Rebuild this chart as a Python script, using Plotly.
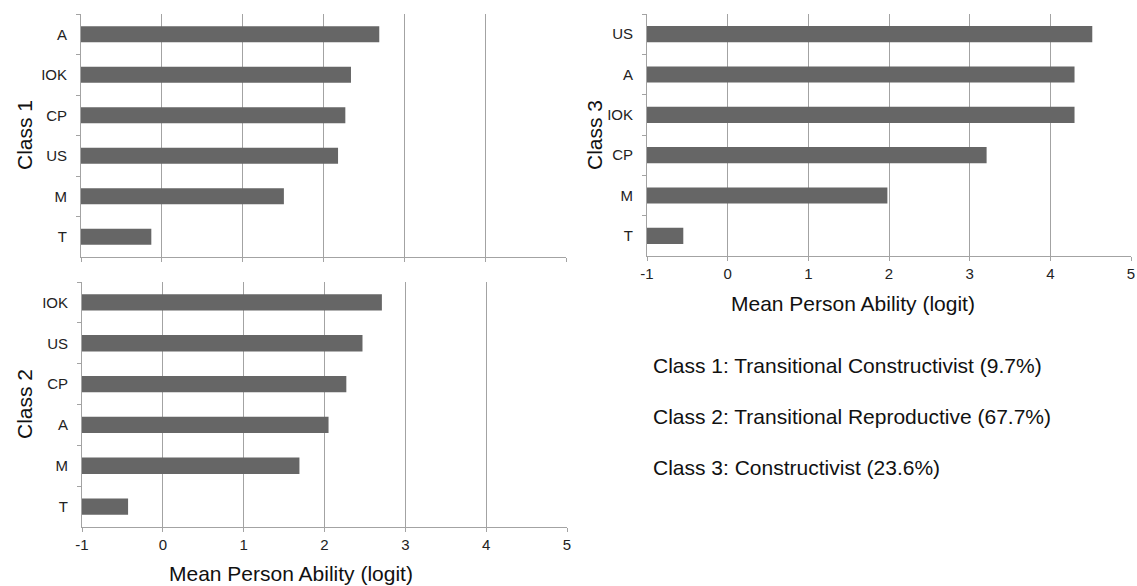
import plotly.graph_objects as go

# Mean person ability (logit) per dimension for each latent class
class1_labels = ["A", "IOK", "CP", "US", "M", "T"]
class1_values = [2.69, 2.34, 2.27, 2.18, 1.51, -0.13]

class2_labels = ["IOK", "US", "CP", "A", "M", "T"]
class2_values = [2.71, 2.47, 2.27, 2.05, 1.69, -0.43]

class3_labels = ["US", "A", "IOK", "CP", "M", "T"]
class3_values = [4.52, 4.30, 4.30, 3.21, 1.98, -0.55]

x_ticks = [-1, 0, 1, 2, 3, 4, 5]
x_tick_text = ["-1", "0", "1", "2", "3", "4", "5"]
axis_floor = -1  # bars grow from the left edge of the logit axis

x_title = "Mean Person Ability (logit)"
class_notes = [
    "Class 1: Transitional Constructivist (9.7%)",
    "Class 2: Transitional Reproductive (67.7%)",
    "Class 3: Constructivist (23.6%)",
]

W, H = 1137, 586
BAR = "#666666"
GRID = "#a3a3a3"
FONT = "Liberation Sans, Arial, sans-serif"
TEXT = "#111111"


def px_x(a, b):
    return [a / W, b / W]


def px_y(top, bottom):
    return [1 - bottom / H, 1 - top / H]


fig = go.Figure()

panels = [
    ("x", "y", class1_labels, class1_values),
    ("x2", "y2", class2_labels, class2_values),
    ("x3", "y3", class3_labels, class3_values),
]
for xa, ya, labels, values in panels:
    fig.add_trace(go.Bar(
        y=labels,
        x=[v - axis_floor for v in values],
        base=axis_floor,
        orientation="h",
        width=0.4,
        marker=dict(color=BAR, line=dict(width=0)),
        xaxis=xa,
        yaxis=ya,
        hoverinfo="skip",
        showlegend=False,
    ))

common_x = dict(
    range=[-1, 5],
    tickvals=x_ticks,
    ticktext=x_tick_text,
    showgrid=True,
    gridcolor=GRID,
    gridwidth=1,
    showline=True,
    linecolor=GRID,
    linewidth=1,
    ticks="outside",
    ticklen=4,
    tickcolor=GRID,
    zeroline=False,
    automargin=False,
    tickfont=dict(size=15, color="#222222", family=FONT),
    fixedrange=True,
)
common_y = dict(
    type="category",
    autorange="reversed",
    showgrid=False,
    showline=True,
    linecolor=GRID,
    linewidth=1,
    ticks="outside",
    ticklen=4,
    tickcolor=GRID,
    tickson="boundaries",
    ticklabelstandoff=10,
    zeroline=False,
    automargin=False,
    tickfont=dict(size=15, color="#222222", family=FONT),
    fixedrange=True,
)

fig.update_layout(
    width=W,
    height=H,
    margin=dict(l=0, r=0, t=0, b=0),
    paper_bgcolor="white",
    plot_bgcolor="white",
    bargap=0.6,
    xaxis=dict(common_x, domain=px_x(81, 566), anchor="y", showticklabels=False),
    yaxis=dict(common_y, domain=px_y(14, 257), anchor="x"),
    xaxis2=dict(common_x, domain=px_x(82, 567), anchor="y2"),
    yaxis2=dict(common_y, domain=px_y(282, 527), anchor="x2"),
    xaxis3=dict(common_x, domain=px_x(647, 1131), anchor="y3"),
    yaxis3=dict(common_y, domain=px_y(14, 256), anchor="x3"),
)

title_font = dict(size=21, color=TEXT, family=FONT)

# Panel titles on the value axes
for cx, cy in [(853, 303), (291, 573)]:
    fig.add_annotation(
        text=x_title, xref="paper", yref="paper",
        x=cx / W, y=1 - cy / H, xanchor="center", yanchor="middle",
        showarrow=False, font=title_font,
    )

# Class names on the category axes
for name, cx, cy in [("Class 1", 24, 135), ("Class 2", 24, 404), ("Class 3", 594, 135)]:
    fig.add_annotation(
        text=name, xref="paper", yref="paper",
        x=cx / W, y=1 - cy / H, xanchor="center", yanchor="middle",
        textangle=-90, showarrow=False, font=title_font,
    )

for i, note in enumerate(class_notes):
    fig.add_annotation(
        text=note,
        xref="paper", yref="paper",
        x=651 / W, y=1 - (365 + 51 * i) / H,
        xanchor="left", yanchor="middle",
        showarrow=False,
        font=dict(size=21, color=TEXT, family=FONT),
    )

fig.write_html("out.html")
